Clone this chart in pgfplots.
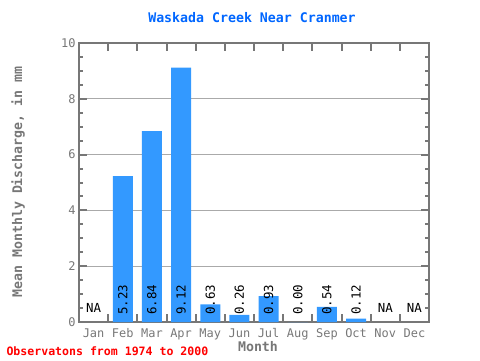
\documentclass[border=0pt]{standalone}
\usepackage{pgfplots}
\pgfplotsset{compat=1.18}
\usepackage{fontspec}
\setmainfont{DejaVu Sans Mono}
\setmonofont{DejaVu Sans Mono}
\definecolor{barblue}{HTML}{3399FF}
\definecolor{axgray}{HTML}{777777}
\definecolor{gridgray}{HTML}{AAAAAA}
\definecolor{titleblue}{HTML}{0066FF}
\begin{document}
\begin{tikzpicture}[x=1bp,y=1bp]
\path[use as bounding box] (0,0) rectangle (480,360);
\begin{axis}[
  at={(79bp,38bp)}, anchor=south west,
  scale only axis, width=350bp, height=279bp,
  xmin=0.5, xmax=12.5, ymin=0, ymax=10,
  axis line style={axgray, line width=2bp},
  every tick/.style={axgray, line width=2bp},
  major tick length=8bp, minor tick length=4bp,
  xtick={1.5,2.5,...,11.5}, xticklabels={},
  extra x ticks={1,2,...,12},
  extra x tick labels={Jan,Feb,Mar,Apr,May,Jun,Jul,Aug,Sep,Oct,Nov,Dec},
  extra x tick style={major tick length=0pt, tick style={draw=none}, grid=none,
    xticklabel style={yshift=-3bp}},
  ytick={0,2,...,10}, minor y tick num=3,
  ymajorgrids, major grid style={gridgray, line width=1bp},
  tick label style={font=\fontsize{12}{13}\selectfont, text=axgray},
  /pgf/number format/assume math mode=true,
  clip=false,
]
\addplot[ybar, bar width=20bp, bar shift=0pt, fill=barblue, draw=none]
  coordinates {(2,5.23) (3,6.84) (4,9.12) (5,0.63) (6,0.26) (7,0.93) (8,0) (9,0.54) (10,0.12)};
\addplot[draw=none, mark=none, nodes near coords, point meta=explicit symbolic,
  every node near coord/.style={rotate=90, anchor=west, inner xsep=7bp, inner ysep=0pt, text=black, font=\fontsize{12.5}{13}\selectfont}]
  coordinates {(2,0)[5.23] (3,0)[6.84] (4,0)[9.12] (5,0)[0.63] (6,0)[0.26] (7,0)[0.93] (8,0)[0.00] (9,0)[0.54] (10,0)[0.12]};
\addplot[draw=none, mark=none, nodes near coords, point meta=explicit symbolic,
  every node near coord/.style={anchor=center, inner sep=0pt, yshift=14bp, text=black, font=\fontsize{12.5}{13}\selectfont}]
  coordinates {(1,0)[NA] (11,0)[NA] (12,0)[NA]};
\end{axis}
\node[text=titleblue, font=\bfseries\fontsize{13.3}{15}\selectfont] at (252,342) {Waskada Creek Near Cranmer};
\node[text=axgray, rotate=90, font=\bfseries\fontsize{13.3}{15}\selectfont] at (18,178) {Mean Monthly Discharge, in mm};
\node[text=axgray, font=\bfseries\fontsize{13.3}{15}\selectfont] at (258,13) {Month};
\node[text=red, anchor=west, font=\bfseries\fontsize{11.6}{13}\selectfont] at (3,9) {Observatons from 1974 to 2000};
\end{tikzpicture}
\end{document}
